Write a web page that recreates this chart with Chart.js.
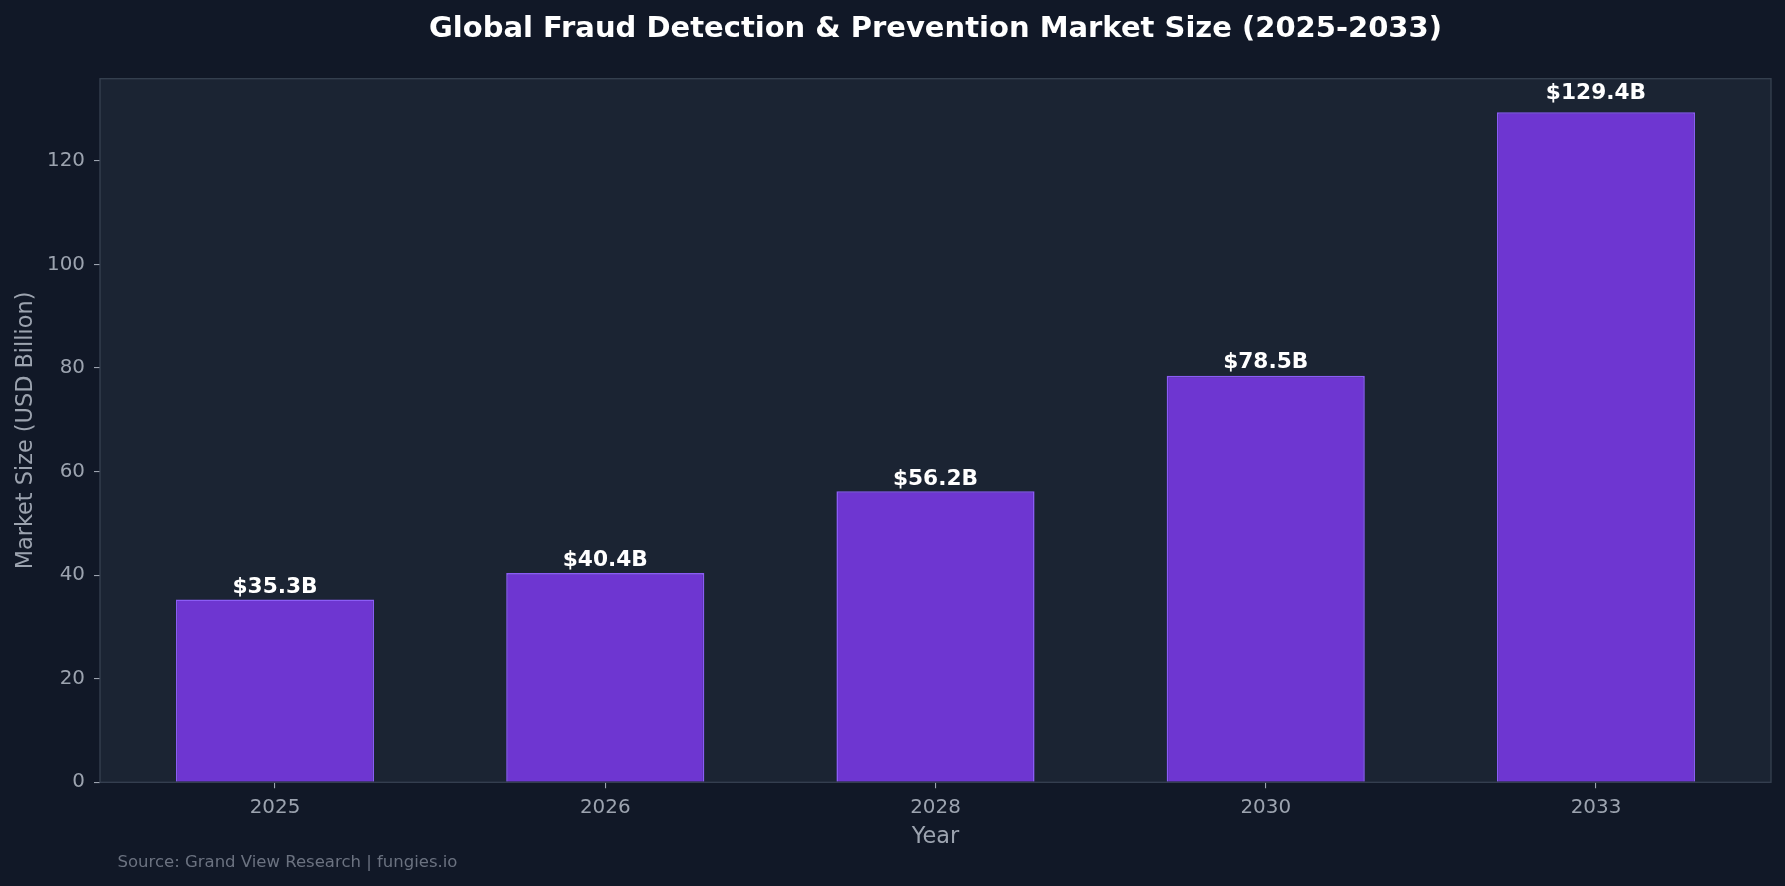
<!DOCTYPE html>
<html><head><meta charset="utf-8">
<script src="https://cdn.jsdelivr.net/npm/chart.js@4.4.1/dist/chart.umd.min.js"></script>
<style>html,body{margin:0;padding:0;background:#111827;overflow:hidden}canvas{display:block}</style>
</head><body>
<canvas id="c" width="1785" height="886" style="width:1785px;height:886px"></canvas>
<script>
const categories = ['2025', '2026', '2028', '2030', '2033'];
const marketSize = [35.3, 40.4, 56.2, 78.5, 129.4];
const valueLabels = ['$35.3B', '$40.4B', '$56.2B', '$78.5B', '$129.4B'];
const yTicks = [0, 20, 40, 60, 80, 100, 120];
const titleText = 'Global Fraud Detection & Prevention Market Size (2025-2033)';
const sourceText = 'Source: Grand View Research | fungies.io';
const xTitle = 'Year';
const yTitle = 'Market Size (USD Billion)';

const FONT = "'DejaVu Sans', 'Noto Sans', sans-serif";
Chart.defaults.font.family = FONT;

const W = 1785, H = 886;
const plotTop = 78.7, plotBottom = 782.3, plotLeft = 100, plotRight = 1771;
const yMax = Math.max(...marketSize) * 1.05;

const decor = {
  id: 'decor',
  beforeDraw(chart) {
    const {ctx, chartArea: a} = chart;
    ctx.save();
    ctx.fillStyle = '#111827';
    ctx.fillRect(0, 0, W, H);
    ctx.fillStyle = '#1b2433';
    ctx.fillRect(a.left, a.top, a.right - a.left, a.bottom - a.top);
    ctx.restore();
  },
  afterDatasetsDraw(chart) {
    const {ctx, chartArea: a} = chart;
    ctx.save();
    ctx.strokeStyle = '#374151';
    ctx.lineWidth = 1.3;
    ctx.strokeRect(a.left, a.top, a.right - a.left, a.bottom - a.top);
    // value labels
    const meta = chart.getDatasetMeta(0);
    const ys = chart.scales.y;
    ctx.fillStyle = '#ffffff';
    ctx.font = "bold 21.7px " + FONT;
    ctx.textAlign = 'center';
    ctx.textBaseline = 'alphabetic';
    meta.data.forEach((bar, i) => {
      const v = marketSize[i];
      const off = Math.max(1.3, 0.02 * v);
      ctx.fillText(valueLabels[i], bar.x, ys.getPixelForValue(v + off));
    });
    // title
    ctx.font = "bold 29px " + FONT;
    ctx.fillText(titleText, (a.left + a.right) / 2, 36.5);
    // source
    ctx.font = "16.5px " + FONT;
    ctx.fillStyle = '#6b7280';
    ctx.textAlign = 'left';
    ctx.fillText(sourceText, 117.5, 867);
    ctx.restore();
  }
};

new Chart(document.getElementById('c'), {
  type: 'bar',
  data: {
    datasets: [{
      data: marketSize.map((v, i) => ({x: i, y: v})),
      backgroundColor: 'rgba(124,58,237,0.85)',
      borderColor: '#8b5cf6',
      borderWidth: 1.6,
      categoryPercentage: 1.0,
      barPercentage: 0.6
    }]
  },
  options: {
    responsive: false,
    animation: false,
    devicePixelRatio: 1,
    layout: {padding: {top: plotTop, right: W - plotRight, left: 0, bottom: 0}},
    plugins: {legend: {display: false}, tooltip: {enabled: false}, title: {display: false}},
    scales: {
      x: {
        type: 'linear',
        offset: false,
        min: -0.53,
        max: categories.length - 1 + 0.53,
        afterBuildTicks(s) { s.ticks = categories.map((c, i) => ({value: i})); },
        afterFit(s) { s.height = H - plotBottom; },
        ticks: {
          callback: (v) => categories[v],
          color: '#9ca3af',
          font: {size: 19.9},
          padding: 7.3,
          maxRotation: 0,
          autoSkip: false
        },
        grid: {display: true, drawOnChartArea: false, drawTicks: true, tickLength: 6, color: '#9ca3af', lineWidth: 1.1, offset: false},
        border: {display: false},
        title: {display: true, text: xTitle, color: '#9ca3af', font: {size: 22.4}, padding: {top: 0, bottom: 35}}
      },
      y: {
        min: 0,
        max: yMax,
        afterBuildTicks(s) { s.ticks = yTicks.map(v => ({value: v})); },
        afterFit(s) { s.width = plotLeft; },
        ticks: {color: '#9ca3af', font: {size: 19.9}, padding: 9},
        grid: {display: true, drawOnChartArea: false, drawTicks: true, tickLength: 6, color: '#9ca3af', lineWidth: 1.1},
        border: {display: false},
        title: {display: true, text: yTitle, color: '#9ca3af', font: {size: 22.4}, padding: {top: 12.6, bottom: 0}}
      }
    }
  },
  plugins: [decor]
});
</script>
</body></html>
